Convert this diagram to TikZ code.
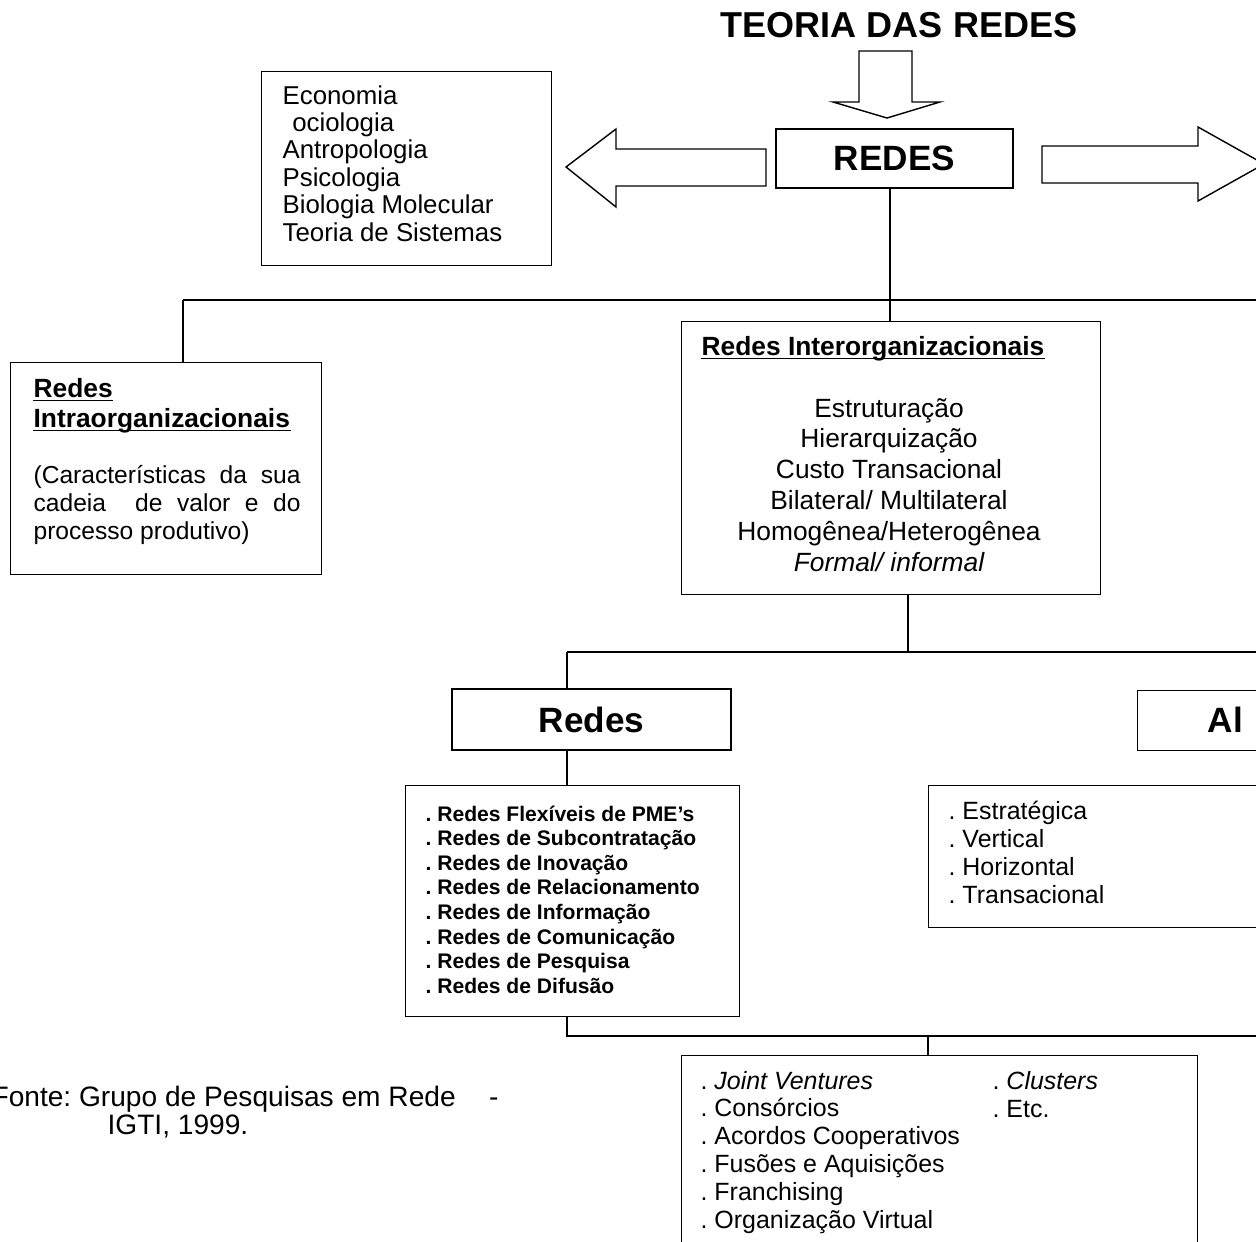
\documentclass[tikz,border=0pt]{standalone}
\usepackage{fontspec}
\setmainfont{Liberation Sans}
\frenchspacing
\begin{document}
\begin{tikzpicture}[x=0.02cm, y=-0.02cm, line width=0.7pt,
  box/.style={draw, inner sep=0pt, anchor=north west},
  cbox/.style={draw, inner sep=0pt},
  txt/.style={inner sep=0pt, anchor=base west},
  ctxt/.style={inner sep=0pt, anchor=base},
  big/.style={font=\fontsize{20}{24}\selectfont\bfseries},
  titlefont/.style={font=\fontsize{20.5}{24}\selectfont\bfseries},
  disc/.style={font=\fontsize{14.7}{16}\selectfont},
  head/.style={font=\fontsize{15}{18}\selectfont\bfseries},
  desc/.style={font=\fontsize{14}{16}\selectfont},
  feat/.style={font=\fontsize{15}{18}\selectfont},
  item/.style={font=\fontsize{12}{14}\selectfont\bfseries},
  kind/.style={font=\fontsize{14.2}{16}\selectfont},
  form/.style={font=\fontsize{14.2}{16}\selectfont},
  src/.style={font=\fontsize{16}{18}\selectfont},
  uline/.style={line width=0.8pt},
  block/.style={draw, line width=0.8pt}]

\useasboundingbox (0,0) rectangle (1256,1241);
\clip (0,0) rectangle (1256,1241);

% title and the central box
\node[titlefont] (title) at (899,25) {TEORIA DAS REDES};
\node[cbox, big, minimum width=4.74cm, minimum height=1.18cm] (redes) at (894.5,158.5) {REDES};

% block arrows around the central box
\draw[block] (859,51) -- (912,51) -- (912,102) -- (940,102) -- (887,118)
  -- (833,102) -- (859,102) -- cycle;
\draw[block] (766,149) -- (616,149) -- (616,129) -- (566,167) -- (616,207)
  -- (616,186) -- (766,186) -- cycle;
\draw[block] (1042,146) -- (1198,146) -- (1198,127) -- (1264,164) -- (1198,201)
  -- (1198,183) -- (1042,183) -- cycle;

% disciplines
\node[box, minimum width=5.8cm, minimum height=3.88cm] (disc) at (261,71) {};
\foreach \t [count=\i] in {Economia, {\hspace*{5.5pt}ociologia}, Antropologia,
    Psicologia, Biologia Molecular, Teoria de Sistemas}
  \node[txt, disc] (d\i) at (282,{104+27.4*(\i-1)}) {\t};

% intra-organisational networks
\node[box, minimum width=6.22cm, minimum height=4.24cm] (intra) at (10,362) {};
\node[txt, head] (i1) at (33,397) {Redes};
\node[txt, head] (i2) at (33,427) {Intraorganizacionais};
\draw[uline] ([yshift=-0.07cm]i1.base west) -- ([yshift=-0.07cm]i1.base east);
\draw[uline] ([yshift=-0.07cm]i2.base west) -- ([yshift=-0.07cm]i2.base east);
\node[txt, desc] (i3) at (33,483) {\makebox[5.34cm][s]{(Características da sua}};
\node[txt, desc] (i4) at (33,511) {\makebox[5.34cm][s]{cadeia\ \ de valor e do}};
\node[txt, desc] (i5) at (33,539) {processo produtivo)};

% inter-organisational networks
\node[box, minimum width=8.38cm, minimum height=5.46cm] (inter) at (681,321) {};
\node[txt, head] (n0) at (701,355) {Redes Interorganizacionais};
\draw[uline] ([yshift=-0.07cm]n0.base west) -- ([yshift=-0.07cm]n0.base east);
\foreach \t [count=\i] in {Estruturação, Hierarquização, Custo Transacional,
    Bilateral/ Multilateral, Homogênea/Heterogênea, {\itshape Formal/ informal}}
  \node[ctxt, feat] (f\i) at (889,{417+30.8*(\i-1)}) {\t};

% second level
\node[cbox, big, minimum width=5.58cm, minimum height=1.22cm] (redesB) at (591.5,719.5) {Redes};
\node[box, minimum width=5.7cm, minimum height=1.2cm] (al) at (1137,690) {};
\node[inner sep=0pt, anchor=west, big] (alT) at (1207,720) {Al};

\node[box, minimum width=6.68cm, minimum height=4.62cm] (lista) at (405,785) {};
\foreach \t [count=\i] in {. Redes Flexíveis de PME’s, . Redes de Subcontratação,
    . Redes de Inovação, . Redes de Relacionamento, . Redes de Informação,
    . Redes de Comunicação, . Redes de Pesquisa, . Redes de Difusão}
  \node[txt, item] (r\i) at (425,{821+24.6*(\i-1)}) {\t};

\node[box, minimum width=7cm, minimum height=2.84cm] (tipos) at (928,785) {};
\foreach \t [count=\i] in {. Estratégica, . Vertical, . Horizontal, . Transacional}
  \node[txt, kind] (t\i) at (948,{819+28*(\i-1)}) {\t};

\node[box, minimum width=10.32cm, minimum height=4cm] (formas) at (681,1055) {};
\foreach \t [count=\i] in {{. \itshape Joint Ventures}, . Consórcios,
    . Acordos Cooperativos, . Fusões e Aquisições, . Franchising,
    . Organização Virtual}
  \node[txt, form] (b\i) at (700,{1089+27.8*(\i-1)}) {\t};
\node[txt, form] (c1) at (992,1089) {. \itshape Clusters};
\node[txt, form] (c2) at (992,1117) {. Etc.};

% connectors
\coordinate (j1) at (890,300);
\coordinate (j1l) at (183,300);
\coordinate (j1r) at (1270,300);
\draw (redes.south -| j1) -- (j1);
\draw (j1l) -- (j1r);
\draw (j1l) -- (intra.north -| j1l);
\draw (j1) -- (inter.north -| j1);

\coordinate (j2) at (908,652);
\coordinate (j2l) at (567,652);
\coordinate (j2r) at (1270,652);
\draw (inter.south -| j2) -- (j2);
\draw (j2l) -- (j2r);
\draw (j2l) -- (redesB.north -| j2l);
\draw (redesB.south -| j2l) -- (lista.north -| j2l);

\coordinate (j3) at (567,1036);
\coordinate (j3m) at (928,1036);
\coordinate (j3r) at (1270,1036);
\draw (lista.south -| j3) -- (j3) -- (j3r);
\draw (j3m) -- (formas.north -| j3m);

% source note
\node[txt, src] (s1) at (-9,1106) {\makebox[10.14cm][l]{Fonte: Grupo de Pesquisas em Rede\hfill-}};
\node[txt, src] (s2) at (107,1134) {IGTI, 1999.};

\end{tikzpicture}
\end{document}
